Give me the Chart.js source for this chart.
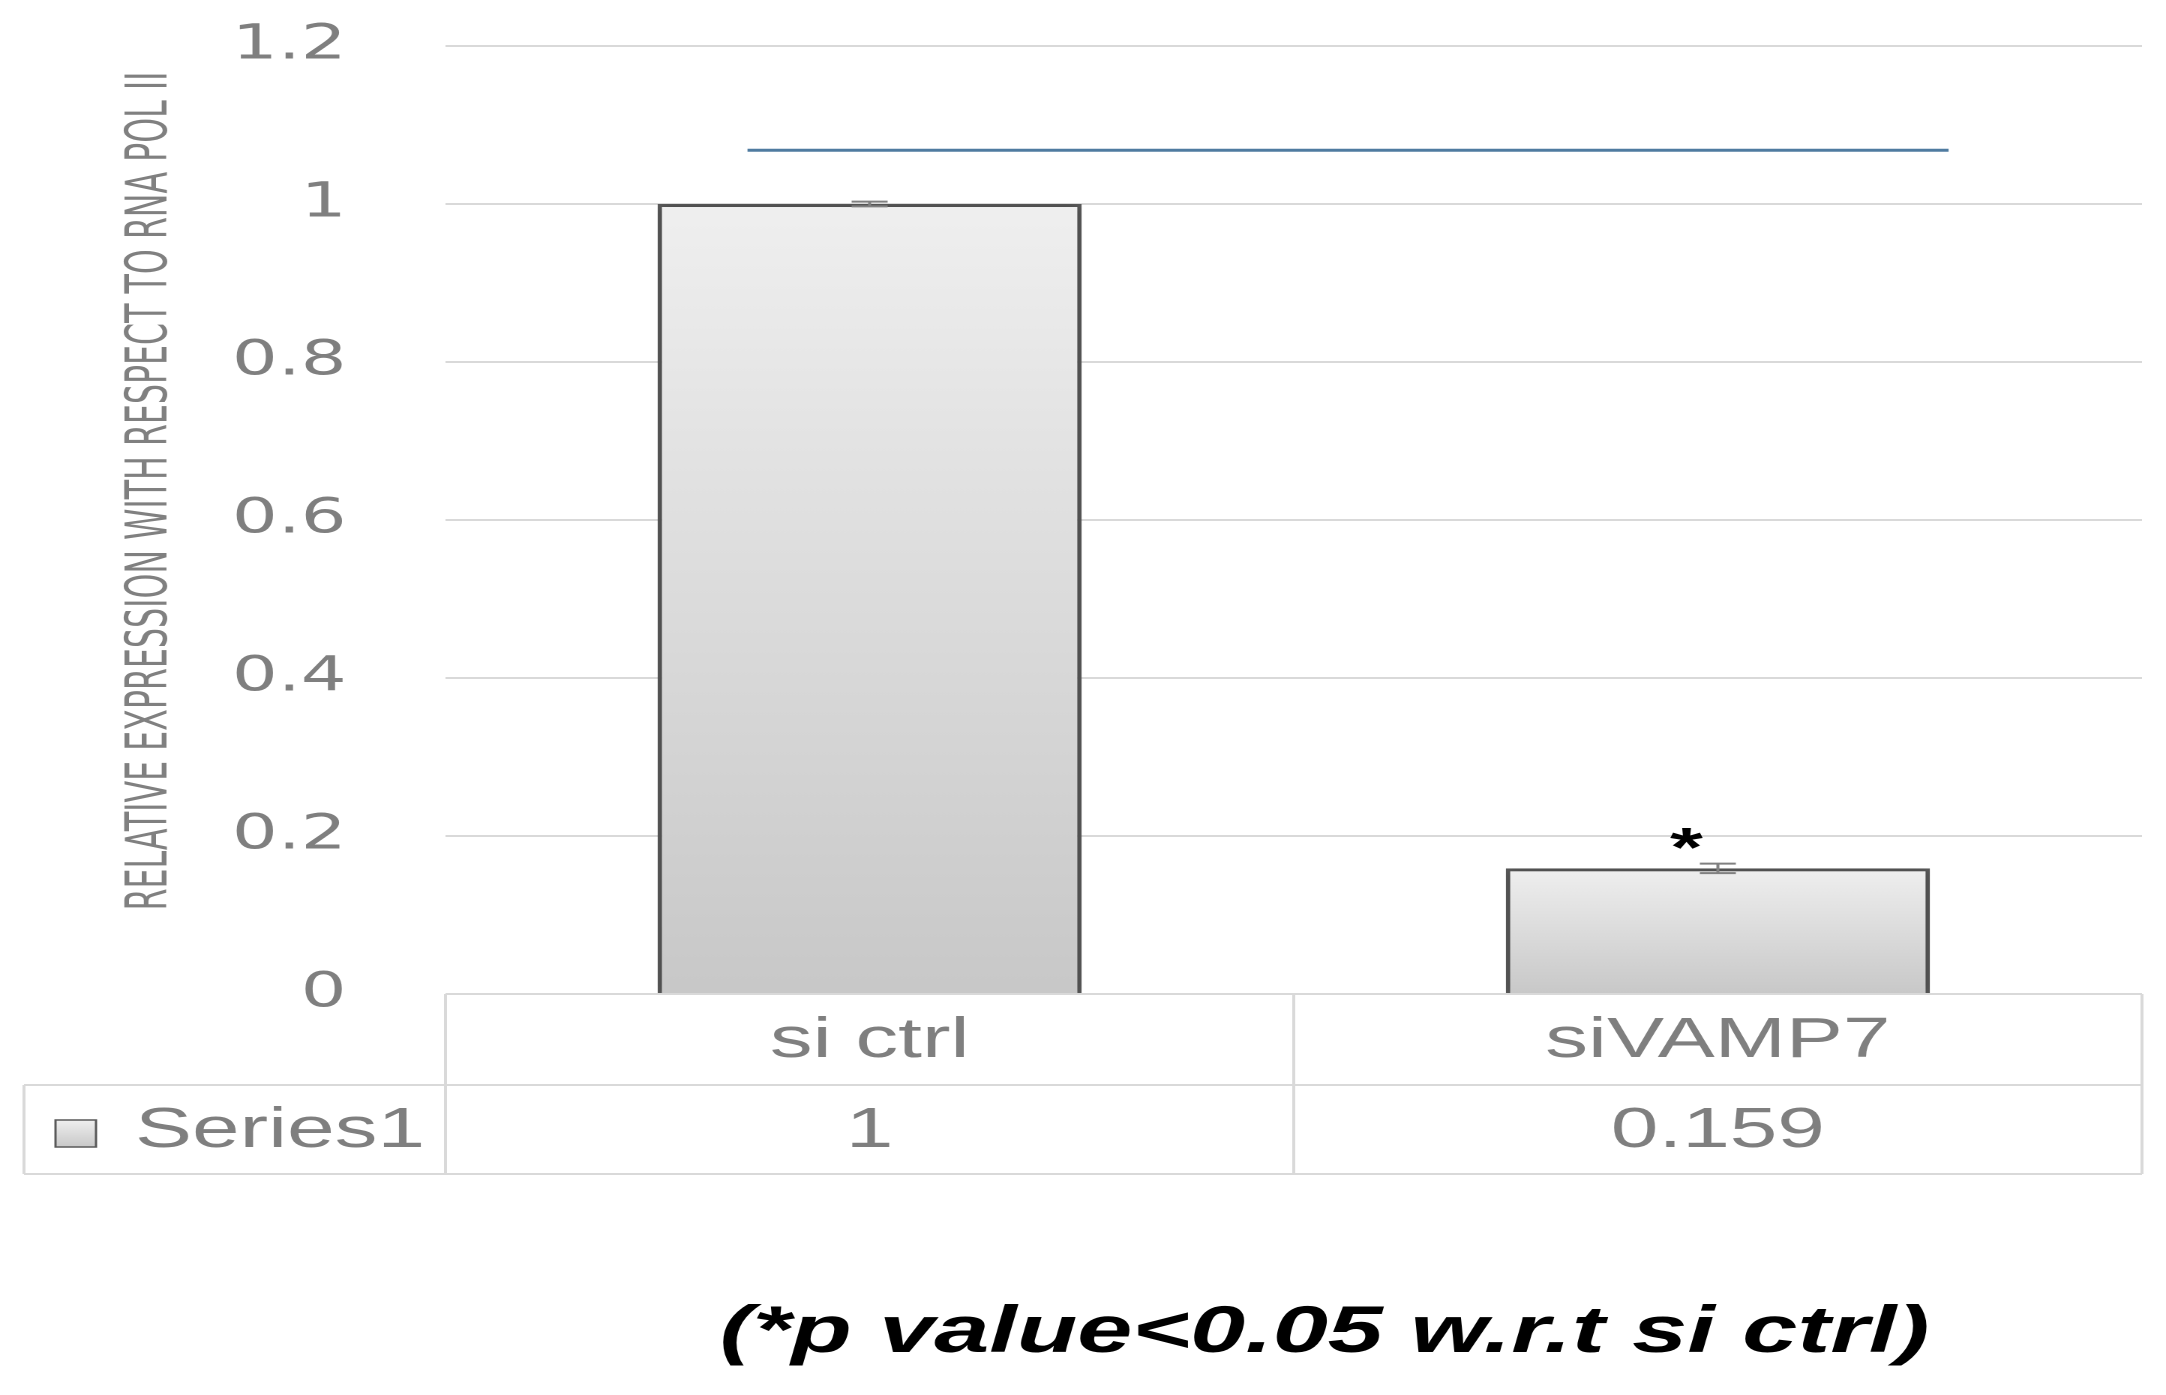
<!DOCTYPE html>
<html>
<head>
<meta charset="utf-8">
<script src="https://cdn.jsdelivr.net/npm/chart.js"></script>
<style>
  html, body { margin: 0; padding: 0; background: #fff; overflow: hidden; }
  #wrap { width: 2166px; height: 1395px; position: relative; }
  /* the source picture is stretched sideways, so the chart is too */
  #chart { transform: scaleX(1.5); transform-origin: 0 0; }
</style>
</head>
<body>
<div id="wrap"><canvas id="chart" width="1444" height="1395"></canvas></div>
<script>
const categories = ['si ctrl', 'siVAMP7']
const series1 = [1, 0.159]
const errors = [0.003, 0.006]
const significance = ['', '*']
const yTicks = [0, 0.2, 0.4, 0.6, 0.8, 1, 1.2]
const bracketX = [-0.144, 1.272]
const bracketY = 1.068
const seriesName = 'Series1'
const yTitle = 'RELATIVE EXPRESSION WITH RESPECT TO RNA POL II'
const caption = '(*p value<0.05 w.r.t si ctrl)'

const grey = '#7f7f7f'
const gridColor = '#d9d9d9'

function barGradient(ctx, top, bottom) {
  const g = ctx.createLinearGradient(0, top, 0, bottom)
  g.addColorStop(0, '#efefef')
  g.addColorStop(1, '#c8c8c8')
  return g
}

// soft glow round the bars
const barShadow = {
  id: 'barShadow',
  beforeDatasetDraw(chart, args) {
    if (args.index !== 0) return
    chart.ctx.save()
    chart.ctx.shadowColor = 'rgba(0,0,0,0.28)'
    chart.ctx.shadowBlur = 14
  },
  afterDatasetDraw(chart, args) {
    if (args.index !== 0) return
    chart.ctx.restore()
  }
}

const extras = {
  id: 'extras',
  afterDatasetsDraw(chart) {
    const ctx = chart.ctx
    const xs = chart.scales.x, ys = chart.scales.y
    ctx.save()
    // error bars
    ctx.strokeStyle = '#808080'
    ctx.lineWidth = 2
    series1.forEach((v, i) => {
      const cx = xs.getPixelForValue(i)
      const hi = ys.getPixelForValue(v + errors[i])
      const lo = ys.getPixelForValue(v - errors[i])
      ctx.beginPath()
      ctx.moveTo(cx, hi); ctx.lineTo(cx, lo)
      ctx.moveTo(cx - 12, hi); ctx.lineTo(cx + 12, hi)
      ctx.moveTo(cx - 12, lo); ctx.lineTo(cx + 12, lo)
      ctx.stroke()
      if (significance[i]) {
        ctx.fillStyle = '#000'
        ctx.font = 'bold 56px "Liberation Sans", Arial, sans-serif'
        ctx.textAlign = 'center'
        ctx.textBaseline = 'alphabetic'
        ctx.fillText(significance[i], cx - 21, hi + 3)
      }
    })
    ctx.restore()
  },
  afterDraw(chart) {
    const ctx = chart.ctx
    const a = chart.chartArea
    const xs = chart.scales.x
    const top = a.bottom
    const row1 = top + 91
    const row2 = top + 180
    const far = 16
    const mid = (xs.getPixelForValue(0) + xs.getPixelForValue(1)) / 2
    ctx.save()
    // data table
    ctx.strokeStyle = gridColor
    ctx.lineWidth = 2
    ctx.beginPath()
    ctx.moveTo(a.left, top); ctx.lineTo(a.right, top)
    ctx.moveTo(far, row1); ctx.lineTo(a.right, row1)
    ctx.moveTo(far, row2); ctx.lineTo(a.right, row2)
    ;[a.left, mid, a.right].forEach(x => { ctx.moveTo(x, top); ctx.lineTo(x, row2) })
    ctx.moveTo(far, row1); ctx.lineTo(far, row2)
    ctx.stroke()

    ctx.fillStyle = grey
    ctx.font = '57px "Liberation Sans", Arial, sans-serif'
    ctx.textAlign = 'center'
    ctx.textBaseline = 'alphabetic'
    categories.forEach((c, i) => {
      const cx = xs.getPixelForValue(i)
      ctx.fillText(c, cx, top + 63)
      ctx.fillText(String(series1[i]), cx, top + 153)
    })
    // legend key + series name
    const ky = top + 126
    ctx.fillStyle = barGradient(ctx, ky, ky + 27)
    ctx.fillRect(37, ky, 27, 27)
    ctx.strokeStyle = '#595959'
    ctx.lineWidth = 1.5
    ctx.strokeRect(37, ky, 27, 27)
    ctx.fillStyle = grey
    ctx.textAlign = 'left'
    ctx.fillText(seriesName, 90, top + 153)

    // y axis title, squeezed along its length
    ctx.save()
    ctx.translate(101, 491)
    ctx.rotate(-Math.PI / 2)
    ctx.font = '38px "Liberation Sans Narrow", "DejaVu Sans Condensed", sans-serif'
    const w = ctx.measureText(yTitle).width
    ctx.scale(839 / w, 1)
    ctx.textAlign = 'center'
    ctx.textBaseline = 'middle'
    ctx.fillStyle = '#808080'
    ctx.fillText(yTitle, 0, 0)
    ctx.restore()

    // caption
    ctx.fillStyle = '#000'
    ctx.font = 'italic bold 66px "Liberation Sans", Arial, sans-serif'
    ctx.textAlign = 'center'
    ctx.fillText(caption, 883, 1352)
    ctx.restore()
  }
}

new Chart(document.getElementById('chart'), {
  type: 'bar',
  data: {
    labels: categories,
    datasets: [
      {
        label: seriesName,
        data: series1,
        xAxisID: 'x',
        grouped: false,
        backgroundColor: (c) => {
          const ch = c.chart
          if (!ch.chartArea || c.type !== 'data') return '#dcdcdc'
          const ys = ch.scales.y
          return barGradient(ch.ctx, ys.getPixelForValue(c.raw), ys.getPixelForValue(0))
        },
        borderColor: '#5a5a5a',
        borderWidth: 3,
        categoryPercentage: 1,
        barPercentage: 0.5
      },
      {
        type: 'line',
        label: 'bracket',
        data: bracketX.map(x => ({ x: x, y: bracketY })),
        xAxisID: 'xl',
        borderColor: '#4f7ba0',
        borderWidth: 3,
        pointRadius: 0,
        fill: false
      }
    ]
  },
  options: {
    responsive: false,
    devicePixelRatio: 2,
    animation: false,
    layout: { padding: { left: 0, right: 16, top: 46, bottom: 401 } },
    plugins: {
      legend: { display: false },
      tooltip: { enabled: false }
    },
    scales: {
      x: { display: false },
      xl: { type: 'linear', display: false, offset: false, min: -0.5, max: 1.5 },
      y: {
        min: 0,
        max: 1.2,
        afterBuildTicks: (s) => { s.ticks = yTicks.map(v => ({ value: v })) },
        afterFit: (s) => {
          s.width = 297
          // keep the tick padding from pushing the plot area in
          s.paddingTop = 0
          s.paddingBottom = 0
        },
        border: { display: false },
        grid: { color: gridColor, lineWidth: 2, drawTicks: false },
        ticks: {
          padding: 66,
          color: grey,
          font: { family: '"DejaVu Sans", sans-serif', size: 48 },
          callback: (v) => String(Math.round(v * 10) / 10)
        }
      }
    }
  },
  plugins: [barShadow, extras]
})
</script>
</body>
</html>
